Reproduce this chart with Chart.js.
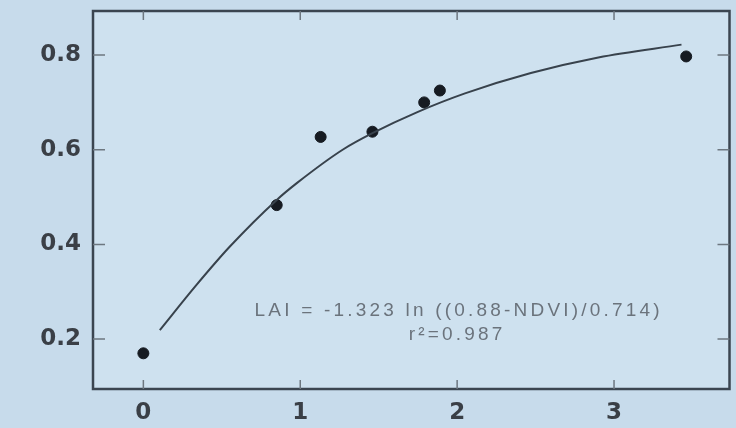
<!DOCTYPE html>
<html>
<head>
<meta charset="utf-8">
<script src="https://cdn.jsdelivr.net/npm/chart.js@4"></script>
<style>
  html, body { margin: 0; padding: 0; background: #c7dbeb; }
  #wrap { width: 736px; height: 428px; }
</style>
</head>
<body>
<div id="wrap"><canvas id="chart" width="736" height="428"></canvas></div>
<script>
// measured points (LAI on x, NDVI on y)
const laiValues  = [0.0, 0.85, 1.13, 1.46, 1.79, 1.89, 3.46];
const ndviValues = [0.17, 0.483, 0.627, 0.638, 0.70, 0.725, 0.797];

// fitted curve
const curveLai  = [0.105, 0.34, 0.55, 0.85, 0.98, 1.27, 1.46, 1.75, 2.05, 2.47, 2.90, 3.43];
const curveNdvi = [0.219, 0.315, 0.395, 0.494, 0.530, 0.600, 0.635, 0.680, 0.719, 0.762, 0.795, 0.822];

const xTicks = [0, 1, 2, 3];
const yTicks = [0.2, 0.4, 0.6, 0.8];

const fitLabel = 'LAI = -1.323 ln ((0.88-NDVI)/0.714)';
const r2Label = 'r\u00B2=0.987';

const frameColor = '#3b4550';

// frame, inward ticks and the fit equation
const framePlugin = {
    id: 'frame',
    beforeDraw(chart) {
        const { ctx, chartArea: a } = chart;
        ctx.save();
        ctx.fillStyle = '#cee1ef';
        ctx.fillRect(a.left, a.top, a.right - a.left, a.bottom - a.top);
        ctx.restore();
    },
    afterDraw(chart) {
        const { ctx, chartArea: a, scales } = chart;
        ctx.save();
        ctx.strokeStyle = frameColor;
        ctx.lineWidth = 2.5;
        ctx.strokeRect(a.left, a.top, a.right - a.left, a.bottom - a.top);

        ctx.strokeStyle = '#6d7780';
        ctx.lineWidth = 1.5;
        ctx.beginPath();
        xTicks.forEach(v => {
            const px = scales.x.getPixelForValue(v);
            ctx.moveTo(px, a.bottom); ctx.lineTo(px, a.bottom - 9);
            ctx.moveTo(px, a.top); ctx.lineTo(px, a.top + 9);
        });
        yTicks.forEach(v => {
            const py = scales.y.getPixelForValue(v);
            ctx.moveTo(a.left, py); ctx.lineTo(a.left + 12, py);
            ctx.moveTo(a.right, py); ctx.lineTo(a.right - 12, py);
        });
        ctx.stroke();

        ctx.fillStyle = '#6b737c';
        ctx.textAlign = 'center';
        ctx.textBaseline = 'middle';
        ctx.font = '19px "Liberation Sans", Arial, sans-serif';
        ctx.letterSpacing = '3.2px';
        ctx.fillText(fitLabel, scales.x.getPixelForValue(2.01), scales.y.getPixelForValue(0.259));
        ctx.fillText(r2Label, scales.x.getPixelForValue(2.0), scales.y.getPixelForValue(0.209));
        ctx.restore();
    }
};

const axisFont = { family: '"DejaVu Sans", sans-serif', size: 23, weight: 'bold' };

new Chart(document.getElementById('chart').getContext('2d'), {
    type: 'scatter',
    data: {
        datasets: [
            {
                type: 'line',
                data: curveLai.map((x, i) => ({ x, y: curveNdvi[i] })),
                borderColor: '#38424c',
                borderWidth: 2,
                pointRadius: 0,
                cubicInterpolationMode: 'monotone',
                fill: false
            },
            {
                data: laiValues.map((x, i) => ({ x, y: ndviValues[i] })),
                backgroundColor: '#161b22',
                borderColor: '#161b22',
                pointRadius: 5.5,
                pointHoverRadius: 5.5
            }
        ]
    },
    options: {
        responsive: false,
        animation: false,
        layout: { padding: { top: 11, right: 4, left: 0, bottom: 0 } },
        plugins: { legend: { display: false }, tooltip: { enabled: false } },
        scales: {
            x: {
                type: 'linear',
                min: -0.321,
                max: 3.736,
                afterBuildTicks: s => { s.ticks = xTicks.map(v => ({ value: v })); },
                afterFit: s => { s.height = 39; s.paddingLeft = 0; s.paddingRight = 0; },
                grid: { display: false, drawTicks: false },
                border: { display: false },
                ticks: { color: '#3a3f46', font: axisFont, padding: 10, callback: v => String(v) }
            },
            y: {
                type: 'linear',
                min: 0.0946,
                max: 0.893,
                afterBuildTicks: s => { s.ticks = yTicks.map(v => ({ value: v })); },
                afterFit: s => { s.width = 93; s.paddingTop = 0; s.paddingBottom = 0; },
                grid: { display: false, drawTicks: false },
                border: { display: false },
                ticks: { color: '#3a3f46', font: axisFont, padding: 12, callback: v => v.toFixed(1) }
            }
        }
    },
    plugins: [framePlugin]
});
</script>
</body>
</html>
